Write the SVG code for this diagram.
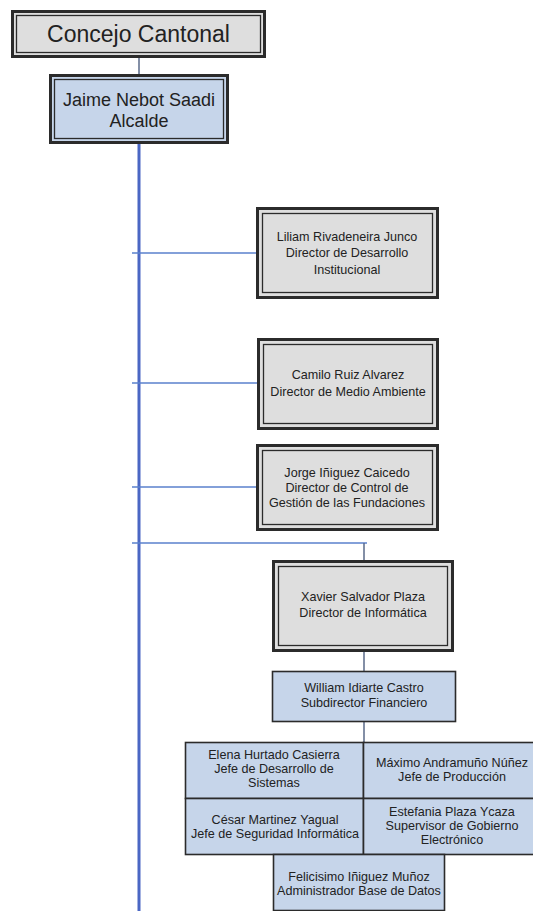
<svg xmlns="http://www.w3.org/2000/svg" width="533" height="911" viewBox="0 0 533 911">
<style>
.bg{fill:#ffffff}
.gray{fill:#dedede;stroke:#2b2b2b;stroke-width:3}
.inner{fill:none;stroke:#2b2b2b;stroke-width:1.3}
.blue{fill:#c6d5ea;stroke:#2b2b2b;stroke-width:1.6}
.bluedbl{fill:#c6d5ea;stroke:#2b2b2b;stroke-width:3}
.t{font-family:"Liberation Sans",Arial,sans-serif;fill:#222;text-anchor:middle}
.s{font-size:12.6px}
.trunk{stroke:#4a67c4;stroke-width:3;fill:none}
.br{stroke:#5a80cc;stroke-width:1.5;fill:none}
.dk{stroke:#5a6a88;stroke-width:1.5;fill:none}
</style>
<rect class="bg" x="0" y="0" width="533" height="911"/>
<g id="connectors">
<line class="dk" x1="139" y1="57" x2="139" y2="76"/>
<line class="trunk" x1="139" y1="143" x2="139" y2="911"/>
<line class="br" x1="132" y1="253" x2="257" y2="253"/>
<line class="br" x1="132" y1="383" x2="258" y2="383"/>
<line class="br" x1="132" y1="487" x2="257" y2="487"/>
<line class="br" x1="132" y1="543" x2="367" y2="543"/>
<line class="dk" x1="364" y1="543" x2="364" y2="561"/>
<line class="dk" x1="364" y1="650" x2="364" y2="671"/>
<line class="dk" x1="364" y1="722" x2="364" y2="742"/>
</g>
<g id="concejo">
<rect class="gray" x="12.5" y="11.5" width="252" height="45"/>
<rect class="inner" x="16.5" y="15.5" width="244" height="37"/>
<text class="t" x="138.5" y="42" font-size="23">Concejo Cantonal</text>
</g>
<g id="alcalde">
<rect class="bluedbl" x="50.5" y="75.5" width="177" height="67"/>
<rect class="inner" x="54.5" y="79.5" width="169" height="59"/>
<text class="t" x="139" y="106" font-size="18">Jaime Nebot Saadi</text>
<text class="t" x="139" y="127" font-size="18">Alcalde</text>
</g>
<g id="liliam">
<rect class="gray" x="257.5" y="208.5" width="180" height="89"/>
<rect class="inner" x="262.5" y="213.5" width="170" height="79"/>
<text class="t s" x="347" y="241">Liliam Rivadeneira Junco</text>
<text class="t s" x="347" y="257">Director de Desarrollo</text>
<text class="t s" x="347" y="274">Institucional</text>
</g>
<g id="camilo">
<rect class="gray" x="258.5" y="339.5" width="179" height="89"/>
<rect class="inner" x="263.5" y="344.5" width="169" height="79"/>
<text class="t s" x="348" y="379">Camilo Ruiz Alvarez</text>
<text class="t s" x="348" y="396">Director de Medio Ambiente</text>
</g>
<g id="jorge">
<rect class="gray" x="257.5" y="445.5" width="180" height="84"/>
<rect class="inner" x="262.5" y="450.5" width="170" height="74"/>
<text class="t s" x="347" y="477">Jorge Iñiguez Caicedo</text>
<text class="t s" x="347" y="492">Director de Control de</text>
<text class="t s" x="347" y="507">Gestión de las Fundaciones</text>
</g>
<g id="xavier">
<rect class="gray" x="273.5" y="561.5" width="179" height="89"/>
<rect class="inner" x="278.5" y="566.5" width="169" height="79"/>
<text class="t s" x="363" y="601">Xavier Salvador Plaza</text>
<text class="t s" x="363" y="617">Director de Informática</text>
</g>
<g id="william">
<rect class="blue" x="272.5" y="671.5" width="183" height="50"/>
<text class="t s" x="364" y="692">William Idiarte Castro</text>
<text class="t s" x="364" y="707">Subdirector Financiero</text>
</g>
<g id="elena">
<rect class="blue" x="185.5" y="742.5" width="178" height="56"/>
<text class="t s" x="274" y="759">Elena Hurtado Casierra</text>
<text class="t s" x="274" y="773">Jefe de Desarrollo de</text>
<text class="t s" x="274" y="787">Sistemas</text>
</g>
<g id="maximo">
<rect class="blue" x="363.5" y="742.5" width="178" height="56"/>
<text class="t s" x="452" y="767">Máximo Andramuño Núñez</text>
<text class="t s" x="452" y="781">Jefe de Producción</text>
</g>
<g id="cesar">
<rect class="blue" x="185.5" y="798.5" width="178" height="56"/>
<text class="t s" x="275" y="824">César Martinez Yagual</text>
<text class="t s" x="275" y="838">Jefe de Seguridad Informática</text>
</g>
<g id="estefania">
<rect class="blue" x="363.5" y="798.5" width="178" height="56"/>
<text class="t s" x="452" y="816">Estefania Plaza Ycaza</text>
<text class="t s" x="452" y="830">Supervisor de Gobierno</text>
<text class="t s" x="452" y="844">Electrónico</text>
</g>
<g id="felicisimo">
<rect class="blue" x="273.5" y="854.5" width="171" height="56"/>
<text class="t s" x="359" y="881">Felicisimo Iñiguez Muñoz</text>
<text class="t s" x="359" y="895">Administrador Base de Datos</text>
</g>
</svg>
